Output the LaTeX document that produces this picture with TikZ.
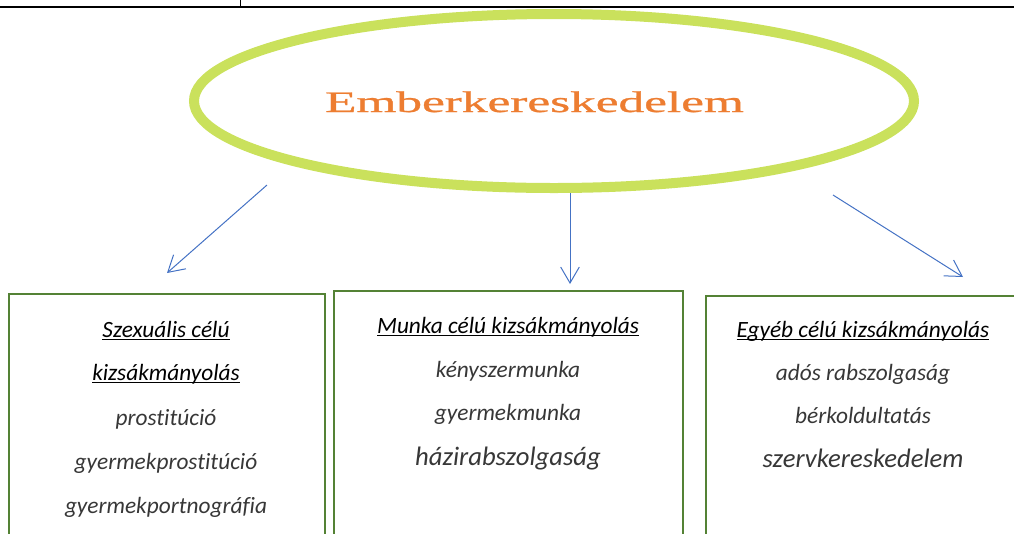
\documentclass[tikz,border=0pt]{standalone}
\usepackage{graphicx}
\usepackage{fontspec}
\setmainfont{Carlito}[Ligatures=NoCommon]
\newfontfamily\titlefont{Liberation Serif}[FakeBold=0.8]
\usetikzlibrary{shapes.geometric,arrows.meta}

\definecolor{ringgreen}{RGB}{202,225,92}
\definecolor{boxgreen}{RGB}{84,130,53}
\definecolor{linkblue}{RGB}{68,114,196}
\definecolor{titleorange}{RGB}{237,125,49}
\definecolor{itemgray}{RGB}{55,55,55}

\newcommand{\headline}[1]{\underline{\smash{#1}}}

\tikzset{
  head/.style={anchor=base, text=black, font=\fontsize{17.5}{21}\selectfont\itshape},
  item/.style={anchor=base, text=itemgray, font=\fontsize{17.5}{21}\selectfont\itshape},
  bigitem/.style={item, font=\fontsize{20}{24}\selectfont\itshape},
  box/.style={draw=boxgreen, line width=1.5pt, anchor=north west, inner sep=0pt},
  link/.style={draw=linkblue, line width=0.75pt, -{Straight Barb[length=12pt,width=14pt]}}
}

\begin{document}
\begin{tikzpicture}[x=0.75pt,y=-0.75pt]
  \useasboundingbox (0,0) rectangle (1014,533);
  \clip (0,0) rectangle (1014,533);

  % table rules at the top
  \draw[line width=1pt] (0,7) -- (1014,7);
  \draw[line width=0.75pt] (240,0) -- (240,7);

  % main topic
  \node[ellipse, draw=ringgreen, line width=7.5pt, minimum width=540pt,
        minimum height=130.5pt, inner sep=0pt] (root) at (554,101) {};
  \node[anchor=base, text=titleorange, inner sep=0pt] (title) at (534.5,112)
    {\titlefont\resizebox{314pt}{15.5pt}{Emberkereskedelem}};

  % boxes
  \node[box, minimum width=237pt, minimum height=210pt] (sexbox) at (8,293) {};
  \node[box, minimum width=261.75pt, minimum height=210pt] (workbox) at (333,290) {};
  \node[box, minimum width=260pt, minimum height=210pt] (otherbox) at (705,295) {};

  % arrows
  \coordinate (sexfrom) at (267,185);
  \coordinate (sexto) at (167,273);
  \coordinate (workfrom) at (570,193);
  \coordinate (workto) at (570,284);
  \coordinate (otherfrom) at (833,195);
  \coordinate (otherto) at (963,277);
  \begin{scope}[link]
    \draw (sexfrom) to (sexto);
    \draw (workfrom) to (workto);
    \draw (otherfrom) to (otherto);
  \end{scope}

  % left box
  \node[head] (sexhead1) at (166,337) {\headline{Szexuális célú}};
  \node[head] (sexhead2) at (166,380) {\headline{kizsákmányolás}};
  \node[item] (sex1) at (166,425) {prostitúció};
  \node[item] (sex2) at (166,469) {gyermekprostitúció};
  \node[item] (sex3) at (166,513) {gyermekportnográfia};

  % middle box
  \node[head] (workhead) at (508,333) {\headline{Munka célú kizsákmányolás}};
  \node[item] (work1) at (508,377) {kényszermunka};
  \node[item] (work2) at (508,420) {gyermekmunka};
  \node[bigitem] (work3) at (508,465) {házirabszolgaság};

  % right box
  \node[head] (otherhead) at (863,337) {\headline{Egyéb célú kizsákmányolás}};
  \node[item] (other1) at (863,380) {adós rabszolgaság};
  \node[item] (other2) at (863,423) {bérkoldultatás};
  \node[bigitem] (other3) at (863,467) {szervkereskedelem};
\end{tikzpicture}
\end{document}
